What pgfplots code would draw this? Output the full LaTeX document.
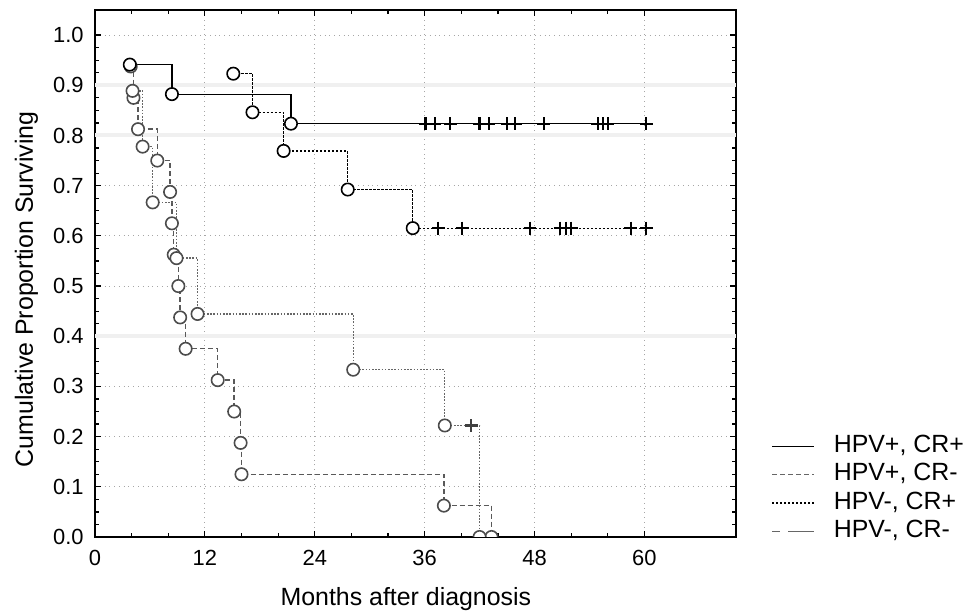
\documentclass[border=0pt]{standalone}
\usepackage{fontspec}
\setmainfont{Liberation Sans}
\usepackage{pgfplots}
\pgfplotsset{compat=1.18}

\begin{document}
\begin{tikzpicture}
\useasboundingbox (-47.5bp,-39bp) rectangle (437.5bp,268.5bp);
\begin{axis}[
  at={(0,0)}, anchor=south west,
  scale only axis,
  width=320.5bp, height=263.5bp,
  xmin=0, xmax=70, ymin=0, ymax=1.05,
  xtick={0,12,24,36,48,60},
  ytick={0,0.1,0.2,0.3,0.4,0.5,0.6,0.7,0.8,0.9,1.0},
  minor x tick num=2, minor y tick num=3,
  tick align=inside, major tick length=3bp, minor tick length=2bp,
  tick style={black, line width=0.6bp},
  yticklabel style={xshift=-2.2bp, /pgf/number format/fixed, /pgf/number format/fixed zerofill, /pgf/number format/precision=1},
  /pgf/number format/assume math mode=true,
  ticklabel style={font=\fontsize{11}{13}\selectfont},
  xticklabel style={yshift=-3.2bp},
  grid=major, grid style={gray!70, dotted, line width=0.4bp},
  extra y ticks={0.4,0.8,0.9}, extra y tick labels={},
  extra y tick style={grid style={gray!12, solid, line width=2bp}, major tick length=0pt},
  axis line style={line width=0.7bp},
  clip marker paths=true,
  xlabel={Months after diagnosis},
  ylabel={Cumulative Proportion Surviving},
  label style={font=\fontsize{12.5}{14}\selectfont},
  xlabel style={at={(axis description cs:0.485,-0.118)}, anchor=center},
  ylabel style={at={(axis description cs:-0.107,0.47)}, anchor=center},
  legend style={draw=none, fill=none, at={(rel axis cs:1,0)}, anchor=south west,
    xshift=17.5bp, yshift=-3.3bp, inner sep=0pt, row sep=2.4bp, column sep=9.5bp,
    font=\fontsize{12.5}{14}\selectfont,
    nodes={inner sep=0pt, text height=9bp, text depth=2.8bp}},
  legend cell align=left,
  legend image code/.code={\draw[#1] (0bp,0bp) -- (21bp,0bp);},
]
% legend images
\addlegendimage{black, line width=0.5bp}
\addlegendentry{HPV+, CR+}
\addlegendimage{black!60, line width=0.7bp, dash pattern=on 2.5bp off 1.5bp}
\addlegendentry{HPV+, CR-}
\addlegendimage{black, line width=0.6bp, dash pattern=on 1.2bp off 0.8bp}
\addlegendentry{HPV-, CR+}
\addlegendimage{black!60, line width=0.7bp, dash pattern=on 4bp off 4bp on 13bp off 0bp}
\addlegendentry{HPV-, CR-}

% HPV+, CR+ (n=17)
\addplot[const plot, black, line width=0.6bp, forget plot] coordinates {
  (3.8,0.9412) (8.4,0.8824) (21.4,0.8235) (60.2,0.8235)};
% HPV-, CR+ (n=13)
\addplot[const plot, black, line width=0.6bp, dash pattern=on 1.2bp off 0.8bp, forget plot] coordinates {
  (15.1,0.9231) (17.2,0.8462) (20.6,0.7692) (27.6,0.6923) (34.7,0.6154) (60.2,0.6154)};
% HPV+, CR- (n=16)
\addplot[const plot, black!65, line width=0.7bp, dash pattern=on 2.5bp off 1.5bp, forget plot] coordinates {
  (3.9,0.9375) (4.2,0.875) (4.7,0.8125) (6.8,0.75) (8.2,0.6875) (8.4,0.625)
  (8.6,0.5625) (9.1,0.5) (9.3,0.4375) (9.9,0.375) (13.4,0.3125) (15.2,0.25)
  (15.9,0.1875) (16.0,0.125) (38.1,0.0625) (43.3,0)};
% HPV-, CR- (n=9)
\addplot[const plot, black!60, line width=0.7bp, dash pattern=on 0.8bp off 0.8bp, forget plot] coordinates {
  (4.1,0.8889) (5.2,0.7778) (6.3,0.6667) (8.9,0.5556) (11.2,0.4444)
  (28.2,0.3333) (38.2,0.2222) (42.0,0.2222) (42.0,0)};

% event circles
\addplot[only marks, mark=*, mark size=3.1bp, mark options={fill=white, draw=black!70, line width=0.8bp}, forget plot] coordinates {
  (3.9,0.9375) (4.2,0.875) (4.7,0.8125) (6.8,0.75) (8.2,0.6875) (8.4,0.625)
  (8.6,0.5625) (9.1,0.5) (9.3,0.4375) (9.9,0.375) (13.4,0.3125) (15.2,0.25)
  (15.9,0.1875) (16.0,0.125) (38.1,0.0625) (43.3,0)};
\addplot[only marks, mark=*, mark size=3.1bp, mark options={fill=white, draw=black!70, line width=0.8bp}, forget plot] coordinates {
  (4.1,0.8889) (5.2,0.7778) (6.3,0.6667) (8.9,0.5556) (11.2,0.4444)
  (28.2,0.3333) (38.2,0.2222) (42.0,0)};
\addplot[only marks, mark=*, mark size=3.1bp, mark options={fill=white, draw=black, line width=0.8bp}, forget plot] coordinates {
  (3.8,0.9412) (8.4,0.8824) (21.4,0.8235)};
\addplot[only marks, mark=*, mark size=3.1bp, mark options={fill=white, draw=black, line width=0.8bp}, forget plot] coordinates {
  (15.1,0.9231) (17.2,0.8462) (20.6,0.7692) (27.6,0.6923) (34.7,0.6154)};

% censored
\addplot[only marks, mark=+, mark size=3.2bp, mark options={black, line width=1.1bp}, forget plot] coordinates {
  (36.1,0.8235) (37.1,0.8235) (38.8,0.8235) (42.0,0.8235) (43.0,0.8235) (45.0,0.8235)
  (45.9,0.8235) (49.0,0.8235) (54.9,0.8235) (55.5,0.8235) (56.0,0.8235) (60.2,0.8235)};
\addplot[only marks, mark=+, mark size=3.2bp, mark options={black, line width=1.1bp}, forget plot] coordinates {
  (37.5,0.6154) (40.1,0.6154) (47.5,0.6154) (50.8,0.6154) (51.4,0.6154) (52.0,0.6154)
  (58.5,0.6154) (60.2,0.6154)};
\addplot[only marks, mark=+, mark size=3.2bp, mark options={black!75, line width=1.1bp}, forget plot] coordinates {
  (41.1,0.2222)};
\end{axis}
\end{tikzpicture}
\end{document}
